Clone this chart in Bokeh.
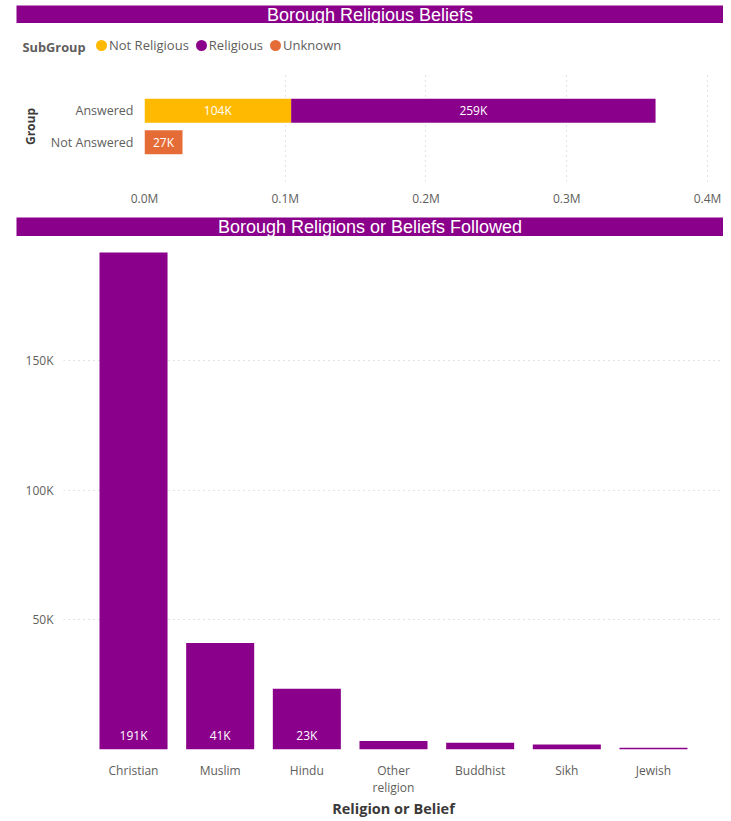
from bokeh.plotting import figure
from bokeh.models import (ColumnDataSource, FactorRange, Range1d, Label, Legend, LegendItem,
                          CustomJSTickFormatter)
from bokeh.embed import file_html
from bokeh.resources import INLINE
from bokeh.core.properties import value

# ---------------- data ----------------
groups = ["Not Answered", "Answered"]          # bottom-to-top order
subgroups = ["Not Religious", "Religious", "Unknown"]
not_religious = [0, 104200]
religious = [0, 258900]
unknown = [27000, 0]

religions = ["Christian", "Muslim", "Hindu", "Other\nreligion", "Buddhist", "Sikh", "Jewish"]
followers = [191500, 41000, 23400, 3300, 2600, 1900, 650]
shown_labels = ["191K", "41K", "23K", "", "", "", ""]

x_ticks_top = [0, 100000, 200000, 300000, 400000]
y_ticks_bottom = [50000, 100000, 150000]

# ---------------- style ----------------
PURPLE = "#8B008B"
YELLOW = "#FFB900"
ORANGE = "#E66C37"
GREY = "#605E5C"
DARK = "#3B3A39"
FONT = "Open Sans"
TITLE_FONT = "Liberation Sans"
colors = [YELLOW, PURPLE, ORANGE]


def blank(width, height, **kw):
    f = figure(width=width, height=height, x_range=Range1d(0, 1), y_range=Range1d(0, 1),
               toolbar_location=None, output_backend="svg", min_border=0,
               outline_line_color=None, **kw)
    f.axis.visible = False
    f.grid.visible = False
    return f


def title_bar(text, height, top):
    t = blank(707, height, background_fill_color=PURPLE, border_fill_color=PURPLE)
    t.margin = (top, 0, 0, 16)
    t.add_layout(Label(x=0.5, y=0.5, text=text, text_align="center", text_baseline="middle",
                       text_color="white", text_font=TITLE_FONT, text_font_size="18px"))
    return t


def style_axes(p):
    for ax in (p.xaxis, p.yaxis):
        ax.axis_line_color = None
        ax.major_tick_line_color = None
        ax.minor_tick_line_color = None
        ax.major_tick_out = 0
        ax.major_tick_in = 0
        ax.minor_tick_out = 0
        ax.major_label_text_color = GREY
        ax.major_label_text_font = FONT
        ax.major_label_text_font_size = "12px"


# ---------------- top chart ----------------
t1 = title_bar("Borough Religious Beliefs", 18, 5)

p1 = figure(width=723, height=157, y_range=FactorRange(*groups, range_padding=0.745),
            x_range=Range1d(0, 406400), toolbar_location=None, output_backend="svg",
            min_border_left=144, min_border_right=7, min_border_top=11, min_border_bottom=36,
            outline_line_color=None)

src1 = ColumnDataSource(dict(group=groups, **{"Not Religious": not_religious,
                                              "Religious": religious, "Unknown": unknown}))
p1.hbar_stack(subgroups, y="group", height=0.76, color=colors, source=src1, line_color=None)

lab_y, lab_x, lab_t = [], [], []
for gi, g in enumerate(groups):
    left = 0
    for vals in (not_religious, religious, unknown):
        v = vals[gi]
        if v > 0:
            lab_y.append(g)
            lab_x.append(left + v / 2)
            lab_t.append(f"{round(v / 1000)}K")
        left += v
p1.text(x=lab_x, y=lab_y, text=lab_t, text_align="center", text_baseline="middle",
        text_color="white", text_font=value(FONT), text_font_size="12px")

p1.xaxis.ticker = x_ticks_top
p1.xaxis.formatter = CustomJSTickFormatter(code="return (tick/1e6).toFixed(1) + 'M'")
style_axes(p1)
p1.yaxis.major_label_text_font_size = "12.5px"
p1.xaxis.major_label_standoff = 8
p1.yaxis.major_label_standoff = 11
p1.yaxis.axis_label = "Group"
p1.yaxis.axis_label_text_font = FONT
p1.yaxis.axis_label_text_font_size = "12px"
p1.yaxis.axis_label_text_font_style = "bold"
p1.yaxis.axis_label_text_color = DARK
p1.yaxis.axis_label_standoff = 9
p1.ygrid.grid_line_color = None
p1.xgrid.grid_line_color = "#C8C6C4"
p1.xgrid.grid_line_dash = "1 4"

# legend strip: proxy renderers with no drawable points, only used for legend swatches
leg = blank(723, 37)
nan = float("nan")
proxies = [leg.circle(x=[nan], y=[nan], radius=0.01, fill_color=c, line_color=c, line_width=5.4)
           for c in colors]
legend = Legend(items=[LegendItem(label=s, renderers=[r]) for s, r in zip(subgroups, proxies)],
                orientation="horizontal", location=(94, 6), background_fill_alpha=0,
                border_line_color=None, label_text_font=FONT, label_text_font_size="13px",
                label_text_color=GREY, glyph_width=14, glyph_height=14, spacing=5,
                label_standoff=1, padding=0, margin=0)
leg.add_layout(legend, "center")
leg.add_layout(Label(x=22, y=14, x_units="screen", y_units="screen", text="SubGroup",
                     text_font=FONT, text_font_size="12.8px", text_font_style="bold",
                     text_color=GREY, text_baseline="middle"))

# ---------------- bottom chart ----------------
t2 = title_bar("Borough Religions or Beliefs Followed", 19, 0)

p2 = figure(width=723, height=584, x_range=FactorRange(*religions, range_padding=0.088),
            y_range=Range1d(0, 195000), toolbar_location=None, output_backend="svg",
            min_border_left=63, min_border_right=0, min_border_top=7, min_border_bottom=65,
            outline_line_color=None)
src2 = ColumnDataSource(dict(religion=religions, count=followers, label=shown_labels))
p2.vbar(x="religion", top="count", width=0.785, source=src2, color=PURPLE, line_color=None)
p2.text(x="religion", y=0, text="label", source=src2, text_align="center",
        text_baseline="middle", y_offset=-14, text_color="white",
        text_font=value(FONT), text_font_size="12px")

p2.yaxis.ticker = y_ticks_bottom
p2.yaxis.formatter = CustomJSTickFormatter(code="return (tick/1000).toFixed(0) + 'K'")
style_axes(p2)
p2.xaxis.major_label_standoff = 12
p2.xaxis.major_label_text_line_height = 1.0
p2.yaxis.major_label_standoff = 10
p2.xaxis.axis_label = "Religion or Belief"
p2.xaxis.axis_label_text_font = FONT
p2.xaxis.axis_label_text_font_size = "14.5px"
p2.xaxis.axis_label_text_font_style = "bold"
p2.xaxis.axis_label_text_color = DARK
p2.xaxis.axis_label_text_line_height = 1.0
p2.xaxis.axis_label_standoff = 0
p2.xgrid.grid_line_color = None
p2.ygrid.grid_line_color = "#C8C6C4"
p2.ygrid.grid_line_dash = "1 4"

open("out.html", "w").write(file_html([t1, leg, p1, t2, p2], INLINE))
